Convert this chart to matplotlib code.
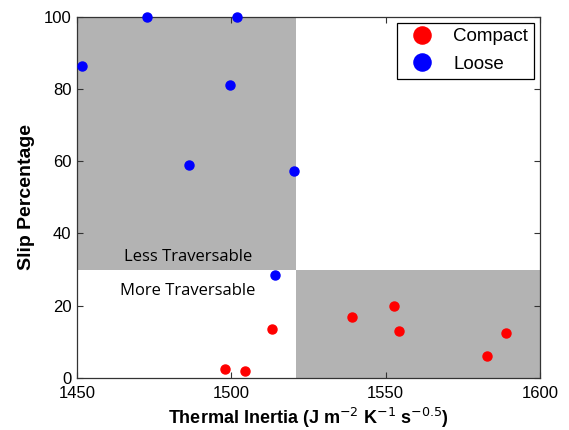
import numpy as np
import matplotlib
matplotlib.use('Agg')
import matplotlib.pyplot as plt
from matplotlib.patches import Rectangle

# datos
loose_ti = [1451.6, 1472.7, 1501.8, 1499.7, 1486.2, 1520.4, 1514.1]
loose_slip = [86.3, 100, 100, 81.1, 59.0, 57.2, 28.6]

compact_ti = [1498.1, 1504.5, 1513.3, 1539.2, 1552.7, 1554.4, 1582.9, 1588.9]
compact_slip = [2.5, 1.9, 13.5, 16.8, 20.0, 12.9, 6.2, 12.4]

ti_limite = 1521
slip_limite = 30

plt.rcParams['font.family'] = ['Liberation Sans', 'DejaVu Sans']

fig = plt.figure(figsize=(5.69, 4.30), dpi=100)
ax = fig.add_axes([0.1353, 0.1209, 0.8137, 0.8403])

gris = '#b3b3b3'
ax.add_patch(Rectangle((1450, slip_limite), ti_limite - 1450, 100 - slip_limite,
                       facecolor=gris, edgecolor='none', zorder=0))
ax.add_patch(Rectangle((ti_limite, 0), 1600 - ti_limite, slip_limite,
                       facecolor=gris, edgecolor='none', zorder=0))

ax.plot(compact_ti, compact_slip, 'o', color='#ff0000', ms=6.5, label='Compact',
        clip_on=False, zorder=3)
ax.plot(loose_ti, loose_slip, 'o', color='#0000ff', ms=6.5, label='Loose',
        clip_on=False, zorder=3)

ax.text(1486, 33.6, 'Less Traversable', ha='center', va='center', fontsize=12,
        family=['Open Sans', 'DejaVu Sans'])
ax.text(1486, 24.2, 'More Traversable', ha='center', va='center', fontsize=12,
        family=['Open Sans', 'DejaVu Sans'])

ax.set_xlim(1450, 1600)
ax.set_ylim(0, 100)
ax.set_xticks([1450, 1500, 1550, 1600])
ax.set_yticks([0, 20, 40, 60, 80, 100])
ax.tick_params(direction='in', top=True, right=True, labelsize=12, length=4,
               width=0.8, color='#333333')
ax.tick_params(axis='x', pad=6)
ax.tick_params(axis='y', pad=4)
for s in ax.spines.values():
    s.set_color('#333333')
    s.set_linewidth(0.9)

ax.set_xlabel('Thermal Inertia (J m$^{-2}$ K$^{-1}$ s$^{-0.5}$)', fontsize=13,
              fontweight='bold', labelpad=3)
ax.set_ylabel('Slip Percentage', fontsize=14, fontweight='bold', labelpad=6)

leg = ax.legend(loc='upper right', fontsize=13.5, markerscale=1.9, fancybox=False,
                edgecolor='black', framealpha=1, borderpad=0.3, handletextpad=0.7,
                labelspacing=0.55, borderaxespad=0,
                bbox_to_anchor=(1 - 6 / 463, 1 - 6 / 361))
leg.get_frame().set_linewidth(0.9)

fig.savefig('out.png', dpi=100)
